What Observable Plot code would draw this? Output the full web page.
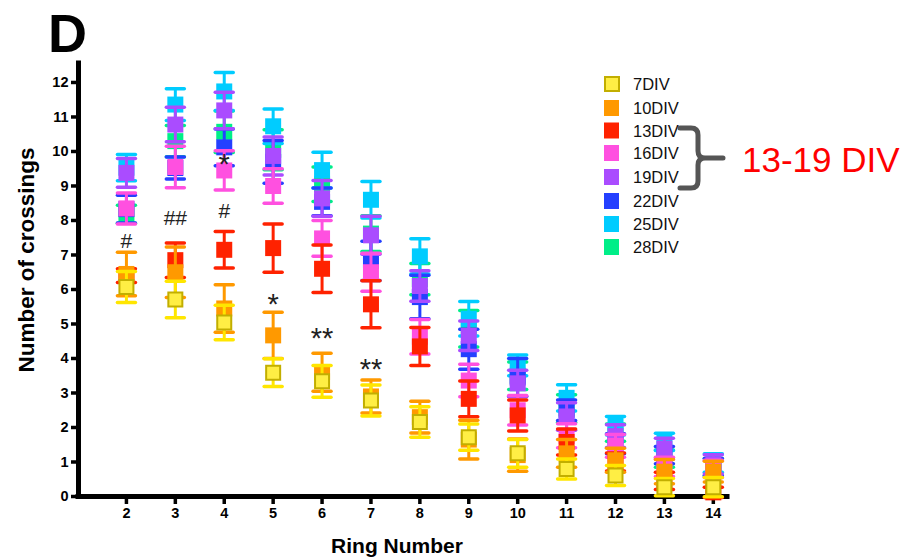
<!DOCTYPE html>
<html>
<head>
<meta charset="utf-8">
<script src="https://cdn.jsdelivr.net/npm/d3@7"></script>
<script src="https://cdn.jsdelivr.net/npm/@observablehq/plot@0.6"></script>
<style>
  body { margin: 0; background: #fff; }
  #wrap { position: relative; width: 905px; height: 559px; font-family: "Liberation Sans", Arial, sans-serif; }
  #wrap svg.overlay { position: absolute; left: 0; top: 0; pointer-events: none; }
</style>
</head>
<body>
<div id="wrap"></div>
<script>
// ---- data ----
const rings = [2, 3, 4, 5, 6, 7, 8, 9, 10, 11, 12, 13, 14];
const xTicks = [2, 3, 4, 5, 6, 7, 8, 9, 10, 11, 12, 13, 14];
const yTicks = [0, 1, 2, 3, 4, 5, 6, 7, 8, 9, 10, 11, 12];
const seriesNames = ["7DIV", "10DIV", "13DIV", "16DIV", "19DIV", "22DIV", "25DIV", "28DIV"];

const mean7  = [6.07, 5.71, 5.04, 3.59, 3.34, 2.78, 2.16, 1.72, 1.25, 0.80, 0.61, 0.27, 0.27];
const sem7   = [0.45, 0.53, 0.50, 0.40, 0.46, 0.45, 0.44, 0.38, 0.40, 0.29, 0.29, 0.25, 0.28];
const mean10 = [6.45, 6.50, 5.45, 4.67, 3.60, 2.90, 2.30, 1.65, 1.20, 1.25, 1.05, 0.72, 0.72];
const sem10  = [0.63, 0.73, 0.69, 0.67, 0.55, 0.48, 0.46, 0.56, 0.47, 0.40, 0.35, 0.35, 0.30];
const mean13 = [6.40, 6.85, 7.15, 7.20, 6.60, 5.57, 4.35, 2.83, 2.35, 1.58, 1.00, 0.45, 0.12];
const sem13  = [0.20, 0.50, 0.53, 0.70, 0.69, 0.68, 0.55, 0.52, 0.45, 0.38, 0.26, 0.25, 0.15];
const mean16 = [8.35, 9.55, 9.45, 9.00, 7.48, 6.50, 4.63, 3.36, 2.50, 1.76, 1.47, 0.86, 0.80];
const sem16  = [0.45, 0.60, 0.57, 0.50, 0.52, 0.55, 0.50, 0.47, 0.43, 0.35, 0.33, 0.28, 0.25];
const mean19 = [9.38, 10.78, 11.19, 9.87, 8.64, 7.57, 6.10, 4.66, 3.28, 2.32, 1.75, 1.39, 0.93];
const sem19  = [0.42, 0.50, 0.53, 0.55, 0.52, 0.55, 0.44, 0.43, 0.38, 0.40, 0.33, 0.30, 0.28];
const mean22 = [8.33, 9.52, 10.12, 9.70, 8.54, 6.83, 5.78, 4.27, 3.45, 2.50, 1.53, 1.20, 0.85];
const sem22  = [0.40, 0.32, 0.53, 0.62, 0.40, 0.57, 0.63, 0.58, 0.55, 0.30, 0.29, 0.25, 0.25];
const mean25 = [9.53, 11.36, 11.74, 10.73, 9.46, 8.60, 6.96, 5.15, 3.80, 2.86, 2.05, 1.58, 0.97];
const sem25  = [0.38, 0.46, 0.55, 0.50, 0.52, 0.53, 0.51, 0.50, 0.30, 0.38, 0.27, 0.25, 0.27];
const mean28 = [8.18, 10.30, 10.57, 10.05, 9.05, 7.62, 6.30, 4.86, 3.50, 2.55, 1.85, 1.10, 0.85];
const sem28  = [0.26, 0.45, 0.60, 0.58, 0.50, 0.52, 0.45, 0.53, 0.40, 0.40, 0.25, 0.25, 0.25];

const squareColors = ["#FFEE44", "#FF9900", "#FF2200", "#FF50E0", "#AA4CFF", "#2440FF", "#00CCFF", "#00EE88"];
const barColors    = ["#FFE600", "#FF9900", "#FF2200", "#FF50E0", "#AA4CFF", "#2440FF", "#00CCFF", "#00EE88"];

const noteRing = [2, 3, 4, 4, 5, 6, 7];
const noteY    = [7.40, 8.05, 8.27, 9.62, 5.56, 4.58, 3.68];
const noteText = ["#", "##", "#", "*", "*", "**", "**"];

// ---- build ----
const means = [mean7, mean10, mean13, mean16, mean19, mean22, mean25, mean28];
const sems  = [sem7, sem10, sem13, sem16, sem19, sem22, sem25, sem28];

const capSymbol = { draw(ctx, size) { const r = Math.sqrt(size / Math.PI); ctx.moveTo(-r, 0); ctx.lineTo(r, 0); } };
const squareSymbol = { draw(ctx, size) { const r = Math.sqrt(size / Math.PI); ctx.rect(-r, -r, 2 * r, 2 * r); } };

const font = '"Liberation Sans", Arial, sans-serif';
const xDomain = [1.02, 14.29];

const marks = [
  Plot.axisY({ticks: yTicks, tickSize: 7, tickPadding: 3, fontSize: 14.5, fontWeight: "bold", strokeWidth: 3.5, label: null, tickFormat: d => String(d)}),
  Plot.axisX({ticks: xTicks, tickSize: 8, tickPadding: 3, fontSize: 14.5, fontWeight: "bold", strokeWidth: 3.5, label: null, tickFormat: d => String(d)}),
  Plot.ruleX([xDomain[0]], {strokeWidth: 5, strokeLinecap: "square"}),
  Plot.ruleY([0], {strokeWidth: 5, strokeLinecap: "square"})
];

// Prism draws the first data set in front: draw 28DIV first, 7DIV last
for (let i = seriesNames.length - 1; i >= 0; i--) {
  const rows = rings.map((r, j) => ({ring: r, mean: means[i][j], sem: sems[i][j], series: seriesNames[i]}));
  marks.push(Plot.ruleX(rows, {x: "ring", y1: d => d.mean - d.sem, y2: d => d.mean + d.sem, stroke: barColors[i], strokeWidth: 3}));
  marks.push(Plot.dot(rows, {x: "ring", y: d => d.mean + d.sem, symbol: capSymbol, r: 9, fill: "none", stroke: barColors[i], strokeWidth: 3.5, strokeLinecap: "round"}));
  marks.push(Plot.dot(rows, {x: "ring", y: d => d.mean - d.sem, symbol: capSymbol, r: 9, fill: "none", stroke: barColors[i], strokeWidth: 3.5, strokeLinecap: "round"}));
  if (i === 0) {
    marks.push(Plot.dot(rows, {x: "ring", y: "mean", symbol: squareSymbol, r: 7, fill: squareColors[i], stroke: "#C2AE00", strokeWidth: 2}));
  } else {
    marks.push(Plot.dot(rows, {x: "ring", y: "mean", symbol: squareSymbol, r: 8, fill: squareColors[i], stroke: "none"}));
  }
}

const notes = noteRing.map((r, k) => ({ring: r, y: noteY[k], text: noteText[k]}));
marks.push(Plot.text(notes.filter(d => d.text.includes("#")), {x: "ring", y: "y", text: "text", fontSize: 21, fill: "#222"}));
marks.push(Plot.text(notes.filter(d => d.text.includes("*")), {x: "ring", y: "y", text: "text", fontSize: 29, fill: "#222"}));

const chart = Plot.plot({
  width: 905,
  height: 559,
  marginLeft: 78,
  marginRight: 178,
  marginTop: 63,
  marginBottom: 63,
  x: {domain: xDomain},
  y: {domain: [0, 12.55]},
  style: {fontFamily: font, background: "white", color: "black"},
  marks
});
const wrap = document.getElementById("wrap");
wrap.appendChild(chart);

// ---- overlay: panel letter, axis titles, legend, brace ----
const ov = d3.select(wrap).append("svg").attr("class", "overlay")
  .attr("width", 905).attr("height", 559).style("font-family", font);

ov.append("text").attr("x", 48).attr("y", 52).attr("font-size", 54).attr("font-weight", "bold").text("D");

ov.append("text").attr("transform", "translate(34,260) rotate(-90)").attr("text-anchor", "middle")
  .attr("font-size", 22.5).attr("font-weight", "bold").text("Number of crossings");

ov.append("text").attr("x", 397).attr("y", 553).attr("text-anchor", "middle")
  .attr("font-size", 21).attr("font-weight", "bold").text("Ring Number");

const legendY = [84, 108, 130.5, 153, 177, 201, 224, 247];
seriesNames.forEach((name, i) => {
  const g = ov.append("g");
  if (i === 0) {
    g.append("rect").attr("x", 605).attr("y", legendY[i] - 7).attr("width", 14).attr("height", 14)
      .attr("fill", squareColors[i]).attr("stroke", "#C2AE00").attr("stroke-width", 2);
  } else {
    g.append("rect").attr("x", 604).attr("y", legendY[i] - 8).attr("width", 15).attr("height", 16)
      .attr("fill", squareColors[i]);
  }
  g.append("text").attr("x", 633).attr("y", legendY[i] + 6).attr("font-size", 16.5).attr("fill", "#111").text(name);
});

ov.append("path")
  .attr("d", "M680,128 L691,128 Q698,128 698,135 L698,151 Q698,158 705,158 L723,158 M705,158 Q698,158 698,165 L698,181 Q698,188 691,188 L680,188")
  .attr("fill", "none").attr("stroke", "#555").attr("stroke-width", 5).attr("stroke-linecap", "round").attr("stroke-linejoin", "round");

ov.append("text").attr("x", 742).attr("y", 172).attr("font-size", 35).attr("fill", "#FF0000").text("13-19 DIV");
</script>
</body>
</html>
